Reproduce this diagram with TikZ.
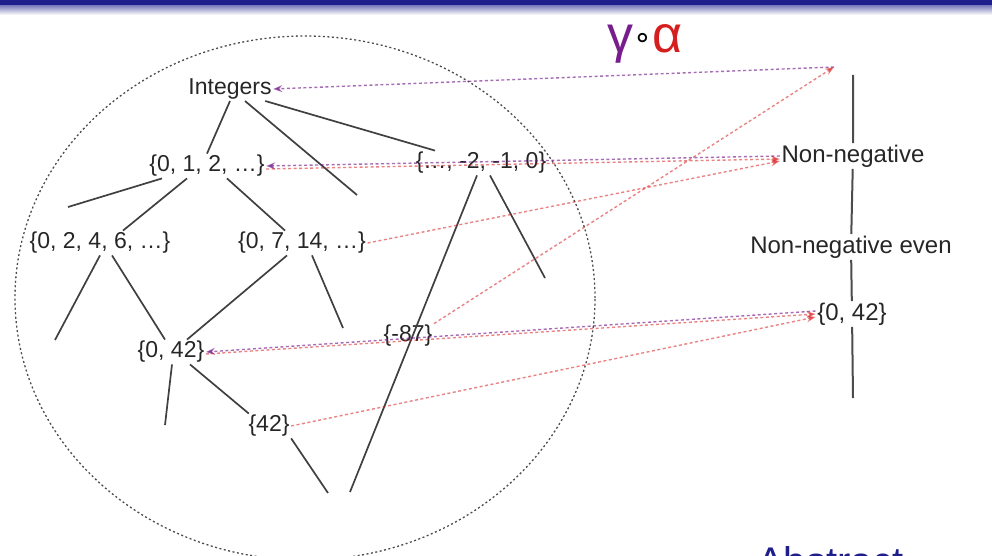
\documentclass[tikz,border=0pt]{standalone}
\usepackage{fontspec}
\setmainfont{Liberation Sans}
\newfontfamily\dejavu{DejaVu Sans}
\usetikzlibrary{arrows.meta}
\definecolor{topblue}{RGB}{30,30,140}
\definecolor{gpurple}{RGB}{120,30,140}
\definecolor{ared}{RGB}{215,30,30}
\begin{document}
\begin{tikzpicture}[x=1pt,y=-1pt,
  lbl/.style={inner sep=1.5pt, font=\fontsize{23}{26}\selectfont, text=black!85},
  rlbl/.style={inner sep=1.5pt, font=\fontsize{24}{27}\selectfont, text=black!85},
  edge/.style={draw=black!75, line width=1.7pt},
  vline/.style={draw=black!70, line width=2pt},
  gam/.style={draw=gpurple, opacity=.65, line width=1.4pt, dash pattern=on 3pt off 2.5pt, -{Stealth[length=9pt,width=7pt]}},
  alp/.style={draw=ared, opacity=.55, line width=1.4pt, dash pattern=on 3pt off 2.5pt, -{Stealth[length=9pt,width=7pt]}}]
\useasboundingbox (0,0) rectangle (992,556);
\clip (0,0) rectangle (992,556);
% top bar
\fill[topblue] (0,0) rectangle (992,6);
\shade[top color=topblue!55, bottom color=white] (0,6) rectangle (992,15);
% dashed circle
\draw[black!70, line width=1.3pt, dash pattern=on 2pt off 2.5pt] (305,298) ellipse [x radius=290pt, y radius=262pt];
% title
\node[font=\fontsize{52}{56}\selectfont, inner sep=0] (title) at (645,44)
  {\textcolor{gpurple}{γ}{\dejavu\fontsize{30}{30}\selectfont\raisebox{5pt}{∘}}\textcolor{ared}{α}};
% concrete lattice
\node[lbl] (Int)  at (230,89)  {Integers};
\node[lbl] (N012) at (207,166) {\{0, 1, 2, …\}};
\node[lbl] (Neg)  at (481,163) {\{…, -2, -1, 0\}};
\node[lbl] (E)    at (100,243) {\{0, 2, 4, 6, …\}};
\node[lbl] (S)    at (302,243) {\{0, 7, 14, …\}};
\node[lbl] (Z42)  at (171,352) {\{0, 42\}};
\node[lbl] (M87)  at (408,336) {\{-87\}};
\node[lbl] (F42)  at (269,426) {\{42\}};
\coordinate (c1) at (357,195);
\coordinate (c2) at (68,207);
\coordinate (c3) at (55,340);
\coordinate (c4) at (343,328);
\coordinate (c5) at (165,425);
\coordinate (c6) at (545,278);
\coordinate (b1) at (328,493);
\coordinate (b2) at (350,492);
\draw[edge] (Int.south) -- (N012.north);
\draw[edge] ([xshift=15pt]Int.south) -- (c1);
\draw[edge] ([xshift=-8pt]Int.south east) -- ([xshift=-46pt]Neg.north);
\draw[edge] ([xshift=-45pt]N012.south) -- (c2);
\draw[edge] ([xshift=-20pt]N012.south) -- ([xshift=23pt]E.north);
\draw[edge] ([xshift=20pt]N012.south) -- ([xshift=-17pt]S.north);
\draw[edge] (E.south) -- (c3);
\draw[edge] ([xshift=12pt]E.south) -- ([xshift=-6pt]Z42.north);
\draw[edge] ([xshift=-15pt]S.south) -- ([xshift=16pt]Z42.north);
\draw[edge] ([xshift=10pt]S.south) -- (c4);
\draw[edge] ([xshift=1pt]Z42.south) -- (c5);
\draw[edge] ([xshift=19pt]Z42.south) -- ([xshift=2pt]F42.north west);
\draw[edge] (F42.south east) -- (b1);
\draw[edge] ([xshift=-4pt]Neg.south) -- (b2);
\draw[edge] ([xshift=9pt]Neg.south) -- (c6);
% abstract lattice
\node[rlbl] (nn)  at (853,156) {Non-negative};
\node[rlbl] (nne) at (851,247) {Non-negative even};
\node[rlbl] (z42r) at (852,314) {\{0, 42\}};
\coordinate (topv) at (853,75);
\coordinate (botv) at (853,398);
\coordinate (topa) at (834,67);
\draw[vline] (topv) -- (nn) -- (nne) -- (z42r) -- (botv);
% gamma and alpha arrows
\draw[gam] (topa) -- (Int.east);
\draw[alp] (M87.north east) -- (topa);
\draw[gam] (nn.west) -- (N012.east);
\draw[alp] ([yshift=-3pt]N012.east) -- ([yshift=-3pt]nn.west);
\draw[alp] (S.east) -- ([yshift=-5pt]nn.west);
\draw[gam] ([yshift=3pt]z42r.west) -- (Z42.east);
\draw[alp] ([yshift=-2pt]Z42.east) -- (z42r.west);
\draw[alp] (F42.east) -- ([yshift=-3pt]z42r.west);
% cut-off text at the bottom edge, as in the reference
\node[anchor=north west, inner sep=0, text=topblue, font=\fontsize{40}{44}\selectfont] (abs) at (757,546) {Abstract};
\end{tikzpicture}
\end{document}
